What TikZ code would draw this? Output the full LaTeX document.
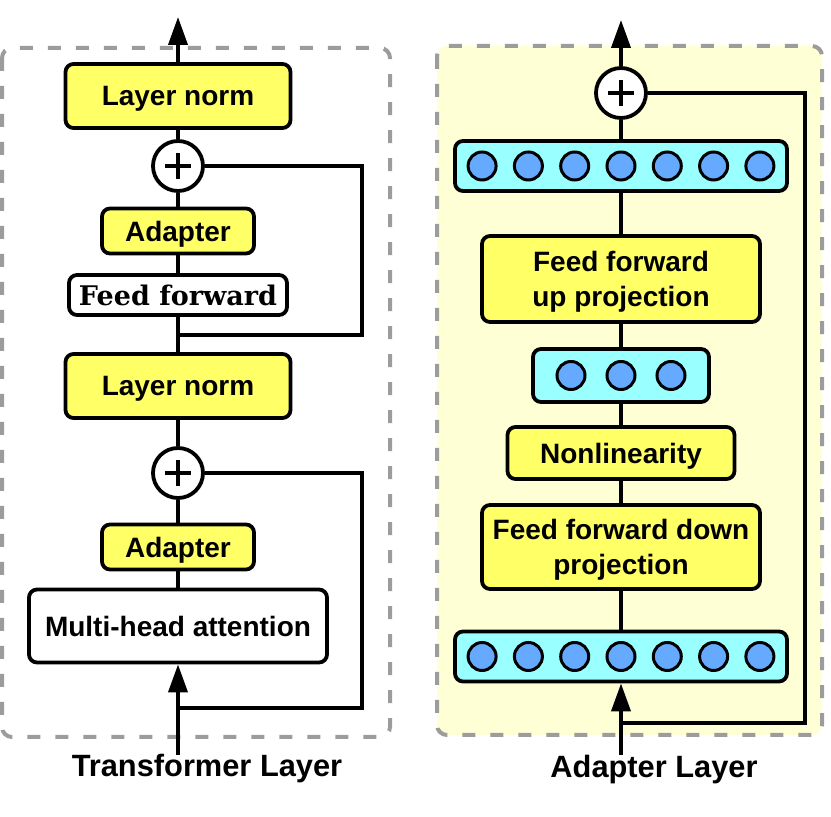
\documentclass[tikz,border=0pt]{standalone}
\usepackage{fontspec}
\setmainfont{Liberation Sans}
\newfontfamily\boxserif{DejaVu Serif}
\usetikzlibrary{arrows.meta,positioning}
\definecolor{cY}{HTML}{FFFF66}
\definecolor{cB}{HTML}{99FFFF}
\definecolor{cN}{HTML}{66AAFF}
\definecolor{cP}{HTML}{FFFFD6}
\definecolor{cG}{HTML}{9C9C9C}
\tikzset{
  blk/.style={rounded corners=4pt,draw=black,line width=1.9pt,fill=cY,text depth=0pt,
              inner sep=0pt,align=center,font=\bfseries\fontsize{14}{17.5}\selectfont},
  wblk/.style={blk,fill=white},
  bar/.style={rounded corners=4pt,draw=black,line width=1.9pt,fill=cB,
              minimum width=166pt,minimum height=25pt,inner sep=0pt},
  unit/.style={circle,draw=black,line width=1.5pt,fill=cN,minimum size=14pt,inner sep=0pt},
  add/.style={circle,draw=black,line width=1.9pt,fill=white,minimum size=25pt,inner sep=0pt,
              path picture={\draw[line width=1.7pt]
                ([xshift=-6.5pt]path picture bounding box.center) -- ([xshift=6.5pt]path picture bounding box.center)
                ([yshift=-6.5pt]path picture bounding box.center) -- ([yshift=6.5pt]path picture bounding box.center);}},
  wire/.style={line width=1.9pt},
  flow/.style={wire,-{Triangle[length=14pt,width=9.5pt]}},
  frame/.style={rounded corners=5pt,draw=cG,line width=2pt,dash pattern=on 6.5pt off 7.5pt},
  lbl/.style={font=\bfseries\fontsize{15.4}{18}\selectfont},
}
\begin{document}
\begin{tikzpicture}[x=0.5pt,y=-0.5pt]
  \useasboundingbox (0,0) rectangle (831,817);
  % the two dashed frames
  \draw[frame] (2,48) rectangle (390,737);
  \draw[frame,fill=cP] (437,46) rectangle (822,735);

  % transformer layer
  \node[blk,minimum width=112.5pt,minimum height=32pt] (ln1) at (178,96) {Layer norm};
  \node[add] (p1) at (178,166) {};
  \node[blk,minimum width=76pt,minimum height=22.5pt] (ad1) at (178,231) {Adapter};
  \node[wblk,font=\boxserif\bfseries\fontsize{13.5}{16}\selectfont,
        minimum width=109pt,minimum height=20pt] (ff) at (178,295) {Feed forward};
  \node[blk,minimum width=112.5pt,minimum height=32pt] (ln2) at (178,386) {Layer norm};
  \node[add] (p2) at (178,473) {};
  \node[blk,minimum width=76pt,minimum height=22.5pt] (ad2) at (178,547) {Adapter};
  \node[wblk,minimum width=149pt,minimum height=36.5pt] (mha) at (178,626) {Multi-head attention};
  \coordinate (in1) at (178,755);
  \coordinate (out1) at (178,17);
  \coordinate (s1) at (362,335);
  \coordinate (s2) at (362,708);

  \draw[wire] (mha) -- (ad2) -- (p2) -- (ln2) -- (ff) -- (ad1) -- (p1) -- (ln1);
  \draw[wire] (p1) -| (s1) -- (s1 -| ff);
  \draw[wire] (p2) -| (s2) -- (s2 -| mha);
  \draw[flow] (in1) -- (mha);
  \draw[flow] (ln1) -- (out1);

  % adapter layer
  \node[add] (p3) at (621,93) {};
  \node[bar] (hup) at (621,166) {};
  \node[blk,minimum width=139pt,minimum height=43pt] (up) at (621,279) {Feed forward\\up projection};
  \node[bar,minimum width=88pt,minimum height=26.5pt] (hmid) at (621,375.5) {};
  \node[blk,minimum width=113.5pt,minimum height=26pt] (nl) at (621,453) {Nonlinearity};
  \node[blk,minimum width=139pt,minimum height=42pt] (down) at (621,547) {Feed forward down\\projection};
  \node[bar] (hin) at (621,656.5) {};
  \foreach \k in {1,...,7}{
     \node[unit] (o\k) at ([xshift={(\k-4)*23.15pt}]hup.center) {};
     \node[unit] (i\k) at ([xshift={(\k-4)*23.15pt}]hin.center) {};
  }
  \foreach \k in {1,2,3}
     \node[unit] (m\k) at ([xshift={(\k-2)*25pt}]hmid.center) {};
  \coordinate (in2) at (621,755);
  \coordinate (out2) at (621,20);
  \coordinate (s3) at (805,723);

  \draw[wire] (hin) -- (down) -- (nl) -- (hmid) -- (up) -- (hup) -- (p3);
  \draw[wire] (p3) -| (s3) -- (s3 -| hin);
  \draw[flow] (in2) -- (hin);
  \draw[flow] (p3) -- (out2);

  % captions
  \node[lbl] (tl) at (207,769) {Transformer Layer};
  \node[lbl] (al) at (654,770) {Adapter Layer};
\end{tikzpicture}
\end{document}
